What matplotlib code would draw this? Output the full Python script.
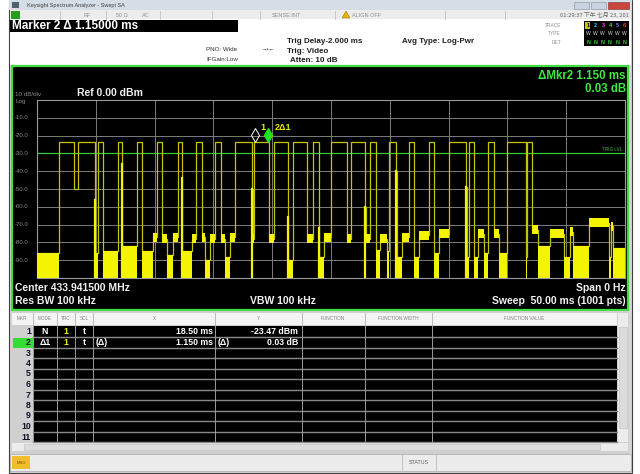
import matplotlib
matplotlib.use("Agg")
import matplotlib.pyplot as plt
from matplotlib.patches import Rectangle, Polygon
from matplotlib.transforms import offset_copy

plt.rcParams['font.family'] = ['Liberation Sans', 'DejaVu Sans']

#trace data (time in ms, level in dBm)--------------------------
# kind: l = trace line, n = noise floor block, f = short plateau, s = narrow spike
seg_end = [1.87, 3.17, 3.50, 4.90, 4.95, 5.18, 5.60, 6.88, 7.22, 7.27,
           8.49, 8.91, 9.85, 10.19, 10.61, 11.05, 11.55, 11.97, 12.31, 12.36,
           13.16, 13.50, 14.01, 14.30, 14.75, 15.11, 15.62, 16.00, 16.45, 16.81,
           18.30, 18.35, 18.45, 19.75, 20.12, 21.31, 21.36, 21.73, 22.92, 23.43,
           23.94, 23.99, 24.40, 24.96, 26.32, 26.74, 27.90, 27.95, 28.35, 28.86,
           29.20, 29.80, 29.97, 30.56, 30.61, 31.00, 31.66, 32.09, 32.50, 33.36,
           33.79, 34.20, 35.06, 36.50, 36.55, 36.76, 37.18, 37.50, 38.00, 38.37,
           38.88, 39.30, 39.98, 41.60, 41.70, 42.11, 42.60, 43.60, 44.85, 45.30,
           45.60, 46.90, 48.60, 48.80, 49.00, 50.00]
seg_level = [-86, -23.5, -50, -23.5, -56, -86, -23.5, -85, -23.5, -36,
             -82, -23.5, -85, -77, -23.5, -78, -87, -77, -23.5, -44,
             -85, -78, -23.5, -77, -90, -78, -23.5, -78, -88, -77,
             -23.5, -50, -78, -23.5, -78, -23.5, -66, -90, -23.5, -78,
             -23.5, -72, -88, -77, -23.5, -78, -23.5, -60, -78, -23.5,
             -84, -78, -85, -23.5, -40, -88, -77, -23.5, -88, -76,
             -23.5, -86, -75, -23.5, -49, -88, -23.5, -88, -75, -86,
             -23.5, -75, -86, -23.5, -88, -23.5, -73, -82, -75, -88,
             -74, -82, -69, -88, -71, -83]
seg_kind = ("nllls" "nlnls"
            "nlnfl" "fnfls"
            "nflfn" "flfnf"
            "lsflf" "lsnlf"
            "lsnfl" "flsfl"
            "nfnls" "nflnf"
            "lnfls" "nlnfn"
            "lfnln" "lfnfn"
            "fnfnfn")

trig_level = -30.0
y_ticks = [-10.0, -20.0, -30.0, -40.0, -50.0, -60.0, -70.0, -80.0, -90.0]

#marker table--------------------------------------
mkr_num = ['1', '2', '3', '4', '5', '6', '7', '8', '9', '10', '11']
mkr_mode = ['N', '\u03941']
mkr_trc = ['1', '1']
mkr_scl = ['t', 't']
mkr_x = [18.50, 1.150]
mkr_y = [-23.47, 0.03]
mkr_xtxt = ['18.50 ms', '1.150 ms']
mkr_ytxt = ['-23.47 dBm', '0.03 dB']

fig = plt.figure(figsize=(6.4, 4.74), dpi=100)
bg = fig.add_axes([0, 0, 1, 1])
bg.set_xlim(0, 640)
bg.set_ylim(474, 0)
bg.axis('off')


def box(x0, y0, x1, y1, fc, ec='none', lw=0, z=1):
    bg.add_patch(Rectangle((x0, y0), x1 - x0, y1 - y0, fc=fc, ec=ec, lw=lw, zorder=z))


def txt(x, y, s, size=5, color='#333333', ha='left', weight='normal', **kw):
    bg.text(x, y, s, fontsize=size, color=color, ha=ha, va='center',
            fontweight=weight, zorder=5, **kw)


#window chrome-------------------------------------
box(0, 0, 640, 474, 'white')
box(9, 0, 632, 473, '#d6d6d6', ec='#404040', lw=0.8)
box(9, 0, 632, 10, '#d5dde7')
box(12, 2, 19, 8, '#506070')
txt(27, 5, 'Keysight Spectrum Analyzer - Swept SA', size=4, color='#404040')
box(574, 1.5, 589, 9, '#c9d3df', ec='#8090a0', lw=0.4)
box(591, 1.5, 606, 9, '#c9d3df', ec='#8090a0', lw=0.4)
box(608, 1.5, 629, 9, '#c8463c', ec='#803030', lw=0.4)

#status row
box(10, 10, 631, 19, '#ececec')
box(11, 11, 20, 18.5, '#1ea01e')
for sx in [60, 106, 160, 212, 260, 335, 445, 505]:
    bg.plot([sx, sx], [10.5, 18.5], color='#b8b8b8', lw=0.5)
txt(83, 15, 'RF', size=4, color='#909090')
txt(116, 15, '50 \u03a9', size=4, color='#909090')
txt(142, 15, 'AC', size=4, color='#909090')
txt(272, 15, 'SENSE:INT', size=4, color='#909090')
bg.add_patch(Polygon([[342, 18], [350, 18], [346, 11]], closed=True,
                     fc='#e8b400', ec='#806000', lw=0.3, zorder=3))
txt(352, 15, 'ALIGN OFF', size=4, color='#909090')
bg.text(629, 15, '01:29:37 \u4e0b\u5348 \u4e03\u6708 23, 201', fontsize=4.2,
        color='#606060', ha='right', va='center',
        family=['Noto Sans CJK SC', 'DejaVu Sans'], zorder=5)

#settings area
box(10, 19, 631, 65, 'white')
box(10, 20, 238, 32, 'black')
txt(12, 26, 'Marker 2 \u0394 1.15000 ms', size=8.5, color='white', weight='bold')
txt(206, 49, 'PNO: Wide', size=4.5, color='#303030')
txt(206, 59, 'IFGain:Low', size=4.5, color='#303030')
txt(262, 50, '\u2192\u2022\u2190', size=4, color='#303030')
txt(287, 41, 'Trig Delay-2.000 ms', size=5.8, color='#202020', weight='bold')
txt(287, 51, 'Trig: Video', size=5.8, color='#202020', weight='bold')
txt(290, 60, 'Atten: 10 dB', size=5.8, color='#202020', weight='bold')
txt(402, 41, 'Avg Type: Log-Pwr', size=5.8, color='#202020', weight='bold')
txt(561, 25, 'TRACE', size=3.5, color='#909090', ha='right')
txt(561, 33, 'TYPE', size=3.5, color='#909090', ha='right')
txt(561, 42, 'DET', size=3.5, color='#909090', ha='right')
box(584, 21, 629, 46, 'black')
trace_cols = ['#ffff00', '#00e0ff', '#ff40ff', '#30ff30', '#6080ff', '#ff4040']
for i, c in enumerate(trace_cols):
    tx0 = 587 + i * 7.2
    if i == 0:
        box(tx0 - 2, 21.5, tx0 + 3, 29, '#c8c800')
        txt(tx0, 25, '1', size=4, color='black', weight='bold')
    else:
        txt(tx0, 25, str(i + 1), size=4, color=c, weight='bold')
    txt(tx0 - 1, 33.5, 'W', size=3.6, color='#e0e0e0')
    txt(tx0 - 0.5, 42, 'N', size=3.8, color='#30e030', weight='bold')

#display frame----------------------------------------
box(12, 66, 628, 310, 'black', ec='#3ede3e', lw=1.6)
txt(626, 76, '\u0394Mkr2 1.150 ms', size=8.3, color='#3ee83e', ha='right', weight='bold')
txt(626, 89, '0.03 dB', size=8.3, color='#3ee83e', ha='right', weight='bold')
txt(15, 94, '10 dB/div', size=4.5, color='#8c8c8c')
txt(15, 101, 'Log', size=4.5, color='#8c8c8c')
txt(77, 93, 'Ref 0.00 dBm', size=7.5, color='#f0f0f0', weight='bold')
txt(15, 288, 'Center 433.941500 MHz', size=7.5, color='#f0f0f0', weight='bold')
txt(15, 301, 'Res BW 100 kHz', size=7.5, color='#f0f0f0', weight='bold')
txt(250, 301, 'VBW 100 kHz', size=7.5, color='#f0f0f0', weight='bold')
txt(626, 288, 'Span 0 Hz', size=7.5, color='#f0f0f0', weight='bold', ha='right')
txt(626, 301, 'Sweep  50.00 ms (1001 pts)', size=7.5, color='#f0f0f0', weight='bold', ha='right')

#trace axes--------------------------------------------
ax = fig.add_axes([37 / 640, 1 - 278 / 474, 588 / 640, 178 / 474])
ax.set_facecolor('black')
ax.set_xlim(0, 50)
ax.set_ylim(-100, 0)
ax.set_xticks(range(0, 51, 5))
ax.set_yticks(range(-100, 1, 10))
ax.tick_params(length=0, labelbottom=False, labelleft=False)
ax.grid(True, color='#7c7c7c', lw=0.7)
for sp in ax.spines.values():
    sp.set_color('#9a9a9a')
    sp.set_linewidth(0.8)
for v in y_ticks:
    ax.text(-1.87, v, f'{v:.1f}', fontsize=4.3, color='#8a8a8a', ha='left',
            va='center', clip_on=False)

ax.axhline(trig_level, color='#36c836', lw=0.9, zorder=2)
ax.text(49.8, trig_level + 0.8, 'TRIG LVL', fontsize=3.3, color='#36c836',
        ha='right', va='bottom')

starts = [0.0] + seg_end[:-1]
tx, ty = [], []
for s, e, v in zip(starts, seg_end, seg_level):
    tx += [s, e]
    ty += [v, v]
ax.plot(tx, ty, color='#c4c400', lw=0.9, zorder=3)
for s, e, v, k in zip(starts, seg_end, seg_level, seg_kind):
    if k == 'n':
        ax.fill_between([s, e], -100, v, color='#f4f400', lw=0, zorder=3)
    elif k == 'f':
        ax.fill_between([s, e], v - 2.5, v + 2.5, color='#f4f400', lw=0, zorder=3)
    elif k == 's':
        ax.plot([s, s], [-100, v], color='#f4f400', lw=1.6, zorder=3)

#markers
m1x = mkr_x[0]
m2x = mkr_x[0] + mkr_x[1]
up = offset_copy(ax.transData, fig=fig, x=0, y=5, units='points')
ax.plot(m1x, mkr_y[0], marker='d', ms=7, mfc='none', mec='white', mew=0.7,
        transform=up, zorder=5)
ax.plot(m2x, mkr_y[0] + mkr_y[1], marker='d', ms=7, mfc='#20e020', mec='#20e020',
        transform=up, zorder=5)
lbl = offset_copy(ax.transData, fig=fig, x=2, y=10, units='points')
ax.text(m1x + 0.3, mkr_y[0], '1', fontsize=6.5, color='#e8e800', weight='bold',
        transform=lbl, va='center')
ax.text(m2x + 0.3, mkr_y[0], '2\u03941', fontsize=6.5, color='#e8e800', weight='bold',
        transform=lbl, va='center')

#marker table------------------------------------------
box(11, 311, 629, 454, '#d0d0d0')
box(12, 313, 617, 325, '#f4f4f4')
col_edges = [33, 57, 75, 93, 215, 302, 365, 432]
for cx in col_edges:
    bg.plot([cx, cx], [313, 325], color='#b0b0b0', lw=0.6)
txt(22, 319, 'MKR', size=3.3, color='#808080', ha='center')
txt(45, 319, 'MODE', size=3.3, color='#808080', ha='center')
txt(66, 319, 'TRC', size=3.3, color='#808080', ha='center')
txt(84, 319, 'SCL', size=3.3, color='#808080', ha='center')
txt(154, 319, 'X', size=3.3, color='#808080', ha='center')
txt(258, 319, 'Y', size=3.3, color='#808080', ha='center')
txt(333, 319, 'FUNCTION', size=3.3, color='#808080', ha='center')
txt(398, 319, 'FUNCTION WIDTH', size=3.3, color='#808080', ha='center')
txt(524, 319, 'FUNCTION VALUE', size=3.3, color='#808080', ha='center')

row_h = 10.5
box(33, 326, 617, 326 + row_h * len(mkr_num), 'black')
for i, n in enumerate(mkr_num):
    cy = 332 + i * row_h
    if i == 1:
        box(13, cy - 5, 33, cy + 5, '#34dc34')
    txt(31, cy, n, size=6.3, color='#101028', ha='right', weight='bold')
    bg.plot([33, 617], [cy + 5.2, cy + 5.2], color='#8a8a8a', lw=1.0)
for cx in col_edges:
    bg.plot([cx, cx], [326, 326 + row_h * len(mkr_num)], color='#9a9a9a', lw=0.7)
for i in range(len(mkr_mode)):
    cy = 332 + i * row_h
    txt(45, cy, mkr_mode[i], size=6.3, color='white', ha='center', weight='bold')
    txt(66, cy, mkr_trc[i], size=6.3, color='#f0f000', ha='center', weight='bold')
    txt(84, cy, mkr_scl[i], size=6.3, color='white', ha='center', weight='bold')
    txt(213, cy, mkr_xtxt[i], size=6.3, color='white', ha='right', weight='bold')
    txt(298, cy, mkr_ytxt[i], size=6.3, color='white', ha='right', weight='bold')
    if i == 1:
        txt(96, cy, '(\u0394)', size=6.3, color='white', weight='bold')
        txt(218, cy, '(\u0394)', size=6.3, color='white', weight='bold')

#scrollbars
box(618, 313, 628, 442, '#ececec')
box(619, 327, 627, 428, '#dcdcdc', ec='#c0c0c0', lw=0.4)
box(12, 443, 628, 451, '#ececec')
box(24, 444, 600, 450, '#dcdcdc', ec='#c0c0c0', lw=0.4)

#status bar
box(10, 454, 631, 471, '#ececec', ec='#a8a8a8', lw=0.5)
box(12, 456, 30, 469, '#f0be2c')
txt(21, 462.5, 'MSG', size=3, color='#805000', ha='center')
bg.plot([402, 402], [455, 470], color='#b0b0b0', lw=0.5)
bg.plot([436, 436], [455, 470], color='#b0b0b0', lw=0.5)
txt(419, 462.5, 'STATUS', size=3.8, color='#606060', ha='center')

plt.savefig('out.png', dpi=100)
